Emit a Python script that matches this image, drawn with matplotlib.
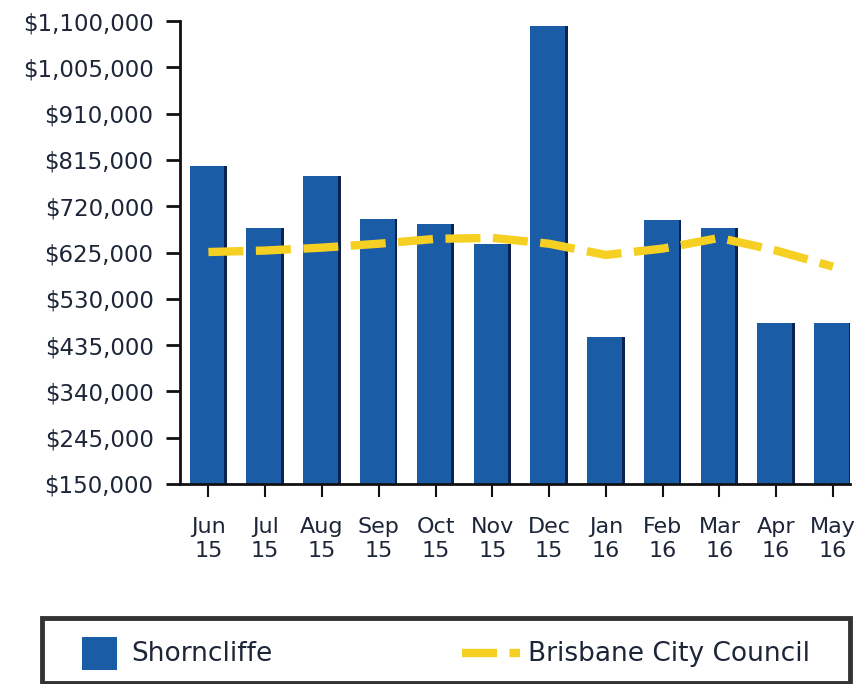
import numpy as np
import matplotlib
matplotlib.use('Agg')
from matplotlib import pyplot as plt
from matplotlib.ticker import FuncFormatter
from matplotlib.patches import Rectangle
from matplotlib.lines import Line2D

# monthly median values
months = ['Jun\n15', 'Jul\n15', 'Aug\n15', 'Sep\n15', 'Oct\n15', 'Nov\n15',
          'Dec\n15', 'Jan\n16', 'Feb\n16', 'Mar\n16', 'Apr\n16', 'May\n16']
shorncliffe = [802000, 676000, 782000, 694000, 684000, 643000,
               1089000, 451000, 692000, 676000, 481000, 481000]
brisbane = [626000, 629000, 635000, 643000, 653000, 655000,
            643000, 620000, 633000, 655000, 629000, 596000]
yticks = [150000, 245000, 340000, 435000, 530000, 625000,
          720000, 815000, 910000, 1005000, 1100000]
series_names = ['Shorncliffe', 'Brisbane City Council']

bar_col = '#1a5ca6'
edge_col = '#0c2350'
line_col = '#f5cf22'
txt_col = '#1c2638'
dash = (4.2, 1.5)

W, H = 858, 684
fig = plt.figure(figsize=(W / 100, H / 100), dpi=100)
ax = fig.add_axes([180 / W, 1 - 484 / H, 670 / W, 463 / H])

x = np.arange(len(months))
w = 0.66
heights = np.array(shorncliffe) - yticks[0]
ax.bar(x, heights, width=w, bottom=yticks[0], color=bar_col, zorder=2)
# dark shadow on the right side of each bar
ax.bar(x + w / 2 - 0.025, heights, width=0.05, bottom=yticks[0],
       color=edge_col, zorder=2)

ln, = ax.plot(x, brisbane, color=line_col, lw=6, zorder=3)
ln.set_dashes(dash)

ax.set_xlim(-0.5, 11.3)
ax.set_ylim(yticks[0], yticks[-1])
ax.set_yticks(yticks)
ax.yaxis.set_major_formatter(FuncFormatter(lambda v, p: '${:,.0f}'.format(v)))
ax.set_xticks(x)
ax.set_xticklabels(months, linespacing=1.2)

for s in ['top', 'right']:
    ax.spines[s].set_visible(False)
for s in ['left', 'bottom']:
    ax.spines[s].set_linewidth(2)
    ax.spines[s].set_color('#111111')

ax.tick_params(axis='y', length=10, width=2, colors='#111111', labelsize=16.5,
               labelcolor=txt_col, pad=9)
ax.tick_params(axis='x', length=9, width=1.5, colors='#111111', labelsize=16,
               labelcolor=txt_col, pad=15)

# legend box drawn by hand to match the wide bordered layout
def fx(px):
    return px / W

def fy(py):
    return 1 - py / H

fig.patches.append(Rectangle((fx(42), fy(683)), fx(850) - fx(42), fy(618) - fy(683),
                             transform=fig.transFigure, facecolor='white',
                             edgecolor='#333333', lw=3.5))
fig.patches.append(Rectangle((fx(82), fy(670)), fx(117) - fx(82), fy(637) - fy(670),
                             transform=fig.transFigure, facecolor=bar_col,
                             edgecolor='none'))
fig.text(fx(131), fy(654), series_names[0], fontsize=19, color=txt_col,
         va='center', ha='left')
leg_line = Line2D([fx(462), fx(520)], [fy(653), fy(653)], transform=fig.transFigure,
                  color=line_col, lw=6)
leg_line.set_dashes(dash)
fig.lines.append(leg_line)
fig.text(fx(528), fy(654), series_names[1], fontsize=19, color=txt_col,
         va='center', ha='left')

fig.savefig('out.png', dpi=100)
